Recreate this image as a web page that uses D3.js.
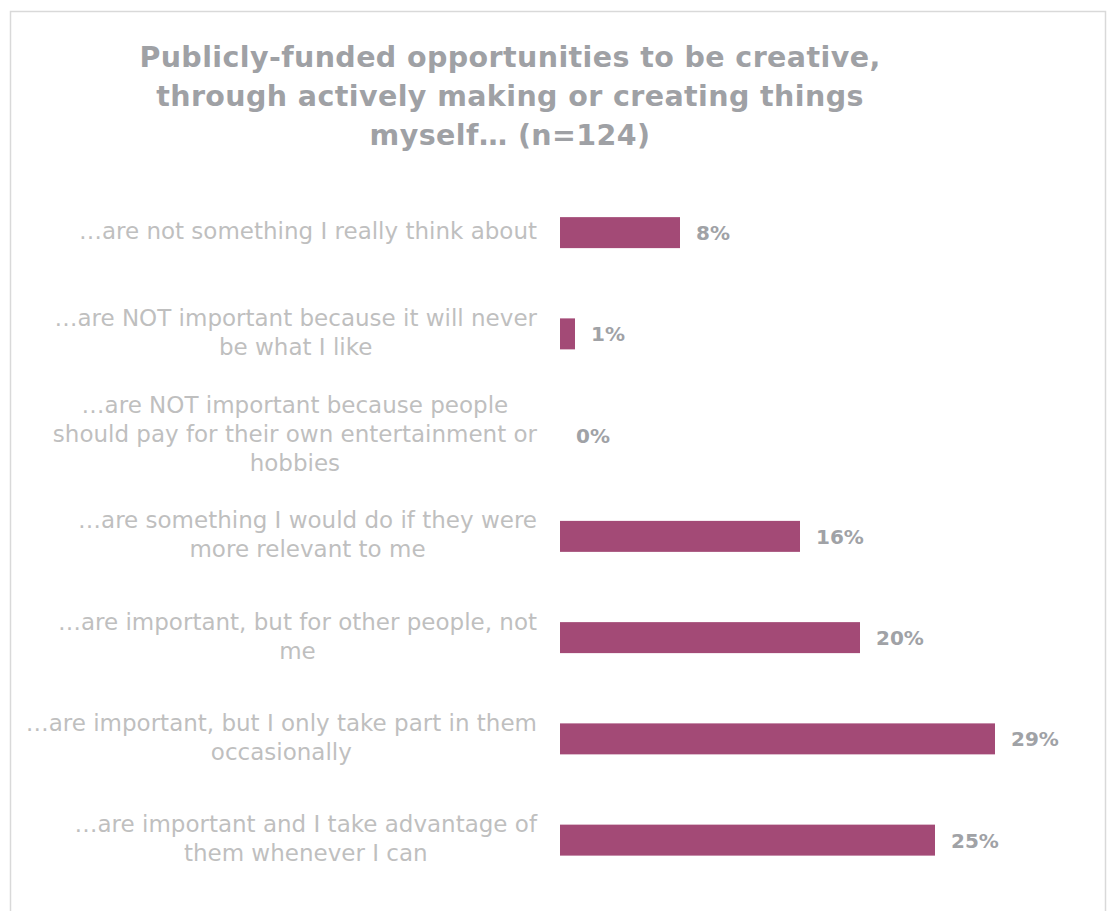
<!DOCTYPE html>
<html>
<head>
<meta charset="utf-8">
<script src="https://cdn.jsdelivr.net/npm/d3@7"></script>
<style>
  html, body { margin: 0; padding: 0; background: #ffffff; }
  svg { display: block; }
</style>
</head>
<body>
<svg id="chart" width="1113" height="911"></svg>
<script>
// Survey responses, top to bottom; "\n" marks a line break in the label
const categories = [
  "…are not something I really think about",
  "…are NOT important because it will never\nbe what I like",
  "…are NOT important because people\nshould pay for their own entertainment or\nhobbies",
  "…are something I would do if they were\nmore relevant to me",
  "…are important, but for other people, not\nme",
  "…are important, but I only take part in them\noccasionally",
  "…are important and I take advantage of\nthem whenever I can"
];
const values = [8, 1, 0, 16, 20, 29, 25];
const titleLines = [
  "Publicly-funded opportunities to be creative,",
  "through actively making or creating things",
  "myself… (n=124)"
];

const svg = d3.select("#chart");
const FONT = "'DejaVu Sans', 'Open Sans', sans-serif";

// Outer frame
svg.append("rect")
  .attr("x", 10.5).attr("y", 11.5)
  .attr("width", 1095).attr("height", 940)
  .attr("fill", "#ffffff")
  .attr("stroke", "#d9d9d9")
  .attr("stroke-width", 1.5);

// Title
svg.append("text")
  .attr("text-anchor", "middle")
  .attr("font-family", FONT)
  .attr("font-weight", 700)
  .attr("font-size", 28.5)
  .attr("letter-spacing", 0.4)
  .attr("fill", "#9fa1a5")
  .selectAll("tspan")
  .data(titleLines)
  .join("tspan")
  .attr("x", 510)
  .attr("y", (d, i) => 67 + i * 39)
  .text(d => d);

const data = categories.map((c, i) => ({ label: c, value: values[i] }));

const x = d3.scaleLinear().domain([0, 30]).range([560, 1010]);
const y = d3.scaleBand()
  .domain(categories)
  .range([182, 182 + 7 * 101.25])
  .paddingInner(0.694)
  .paddingOuter(0.347);

// Bars
svg.append("g")
  .selectAll("rect")
  .data(data)
  .join("rect")
  .attr("x", x(0))
  .attr("y", d => y(d.label))
  .attr("width", d => x(d.value) - x(0))
  .attr("height", y.bandwidth())
  .attr("fill", "#a34a76");

// Value labels
svg.append("g")
  .selectAll("text")
  .data(data)
  .join("text")
  .attr("x", d => x(d.value) + 16)
  .attr("y", d => y(d.label) + y.bandwidth() / 2 + 2)
  .attr("dominant-baseline", "middle")
  .attr("font-family", FONT)
  .attr("font-weight", 700)
  .attr("font-size", 20)
  .attr("fill", "#a0a2a6")
  .text(d => d.value + "%");

// Category labels: lines centred on each other, block right-aligned to the axis
const labelRight = 537;
const lineH = 29;
const labels = svg.append("g")
  .selectAll("text")
  .data(data)
  .join("text")
  .attr("text-anchor", "middle")
  .attr("font-family", FONT)
  .attr("font-size", 23)
  .attr("fill", "#bfbfbf");

labels.each(function(d) {
  const t = d3.select(this);
  const lines = d.label.split("\n");
  const cy = y(d.label) + y.bandwidth() / 2;
  const spans = t.selectAll("tspan")
    .data(lines)
    .join("tspan")
    .attr("dominant-baseline", "middle")
    .attr("y", (l, i) => cy + (i - (lines.length - 1) / 2) * lineH)
    .text(l => l);
  let maxW = 0;
  spans.each(function() { maxW = Math.max(maxW, this.getComputedTextLength()); });
  spans.attr("x", labelRight - maxW / 2);
});
</script>
</body>
</html>
